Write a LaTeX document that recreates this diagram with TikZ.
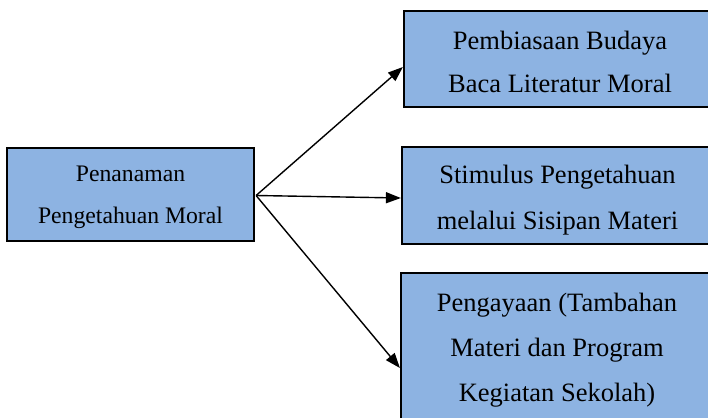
\documentclass[tikz,border=0pt]{standalone}
\usepackage{fontspec}
\setmainfont{Liberation Serif}
\usetikzlibrary{arrows.meta}
\definecolor{boxblue}{HTML}{8DB3E2}
\begin{document}
\begin{tikzpicture}[x=1pt,y=-1pt,
  box/.style={draw=black,line width=2.2pt,fill=boxblue,rectangle,inner sep=0pt},
  txt/.style={inner sep=0pt,align=center},
  conn/.style={line width=1.4pt,-{Triangle[length=15pt,width=11pt]}}]
\useasboundingbox (0,0) rectangle (708,417);
\clip (0,0) rectangle (708,417);
\node[box,minimum width=247pt,minimum height=93pt] (L) at (130.5,194.5) {};
\node[box,minimum width=312pt,minimum height=96pt] (B1) at (560,59) {};
\node[box,minimum width=311pt,minimum height=97pt] (B2) at (557.5,195.5) {};
\node[box,minimum width=312pt,minimum height=148pt] (B3) at (557,347) {};
\node[txt,font=\fontsize{23.7}{42}\selectfont] (LT) at ([yshift=-3pt]L.center) {Penanaman\\Pengetahuan Moral};
\node[txt,font=\fontsize{26.5}{43}\selectfont] (T1) at ([yshift=-2.5pt]B1.center) {Pembiasaan Budaya\\Baca Literatur Moral};
\node[txt,font=\fontsize{26.5}{46}\selectfont] (T2) at ([yshift=-4.5pt]B2.center) {Stimulus Pengetahuan\\melalui Sisipan Materi};
\node[txt,font=\fontsize{26.5}{45}\selectfont] (T3) at ([yshift=-3pt]B3.center) {Pengayaan (Tambahan\\Materi dan Program\\Kegiatan Sekolah)};
\coordinate (s) at ([xshift=1pt,yshift=-1pt]L.east);
\draw[conn] (s) -- ([yshift=-8pt]B1.west);
\draw[conn] (s) -- ([yshift=-2.5pt]B2.west);
\draw[conn] (s) -- ([yshift=-21pt]B3.west);
\end{tikzpicture}
\end{document}
